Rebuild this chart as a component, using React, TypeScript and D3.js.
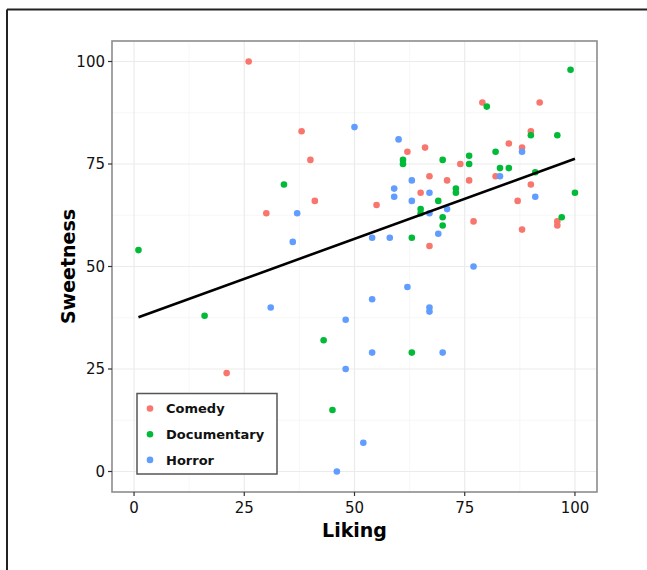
import React from 'react';
import * as d3 from 'd3';

// points: [liking, sweetness]
const comedy: [number, number][] = [
  [26, 100], [38, 83], [40, 76], [41, 66], [30, 63], [21, 24], [55, 65],
  [62, 78], [66, 79], [67, 72], [65, 68], [67, 55], [71, 71], [74, 75],
  [76, 71], [77, 61], [79, 90], [82, 72], [85, 80], [88, 79], [87, 66],
  [88, 59], [90, 83], [90, 70], [92, 90], [96, 61], [96, 60],
];
const documentary: [number, number][] = [
  [1, 54], [16, 38], [34, 70], [43, 32], [45, 15], [61, 76], [61, 75],
  [65, 64], [65, 63], [63, 57], [63, 29], [70, 76], [69, 66], [70, 62],
  [70, 60], [73, 69], [73, 68], [76, 77], [76, 75], [80, 89], [82, 78],
  [83, 74], [85, 74], [90, 82], [91, 73], [96, 82], [97, 62], [99, 98],
  [100, 68],
];
const horror: [number, number][] = [
  [50, 84], [60, 81], [59, 69], [59, 67], [63, 71], [63, 66], [67, 68],
  [67, 63], [71, 64], [69, 58], [54, 57], [58, 57], [37, 63], [36, 56],
  [31, 40], [48, 37], [54, 42], [62, 45], [67, 40], [67, 39], [54, 29],
  [70, 29], [48, 25], [52, 7], [46, 0], [77, 50], [83, 72], [88, 78],
  [91, 67],
];
const fitLine: [number, number][] = [[1, 37.6], [100, 76.3]];

const groups = ['Comedy', 'Documentary', 'Horror'];
const groupData = [comedy, documentary, horror];
const colors = ['#F8766D', '#00BA38', '#619CFF'];
const ticks = [0, 25, 50, 75, 100];
const minorTicks = [12.5, 37.5, 62.5, 87.5];

const W = 647, H = 570;
const panel = { left: 112, right: 597, top: 41, bottom: 492 };
const font = '"DejaVu Sans", Verdana, sans-serif';

export default function App() {
  const x = d3.scaleLinear().domain([-5, 105]).range([panel.left, panel.right]);
  const y = d3.scaleLinear().domain([-5, 105]).range([panel.bottom, panel.top]);
  const line = d3.line<[number, number]>().x(d => x(d[0])).y(d => y(d[1]));

  return (
    <svg width={W} height={H} style={{ position: 'absolute', left: 0, top: 0, background: '#fff' }}>
      {/* outer frame: top and left only */}
      <line x1={7} x2={W} y1={9.5} y2={9.5} stroke="#222" strokeWidth={2} />
      <line x1={7} x2={7} y1={9.5} y2={H} stroke="#222" strokeWidth={2} />

      {/* grid */}
      {minorTicks.map(t => (
        <g key={'m' + t}>
          <line x1={x(t)} x2={x(t)} y1={panel.top} y2={panel.bottom} stroke="#f2f2f2" strokeWidth={0.6} />
          <line x1={panel.left} x2={panel.right} y1={y(t)} y2={y(t)} stroke="#f2f2f2" strokeWidth={0.6} />
        </g>
      ))}
      {ticks.map(t => (
        <g key={'g' + t}>
          <line x1={x(t)} x2={x(t)} y1={panel.top} y2={panel.bottom} stroke="#ebebeb" strokeWidth={1.2} />
          <line x1={panel.left} x2={panel.right} y1={y(t)} y2={y(t)} stroke="#ebebeb" strokeWidth={1.2} />
        </g>
      ))}

      {/* points */}
      {groupData.map((pts, gi) =>
        pts.map((p, i) => (
          <circle key={gi + '-' + i} cx={x(p[0])} cy={y(p[1])} r={3.3} fill={colors[gi]} />
        ))
      )}

      {/* regression line */}
      <path d={line(fitLine) || ''} fill="none" stroke="#000" strokeWidth={2.6} />

      {/* panel border */}
      <rect x={panel.left} y={panel.top} width={panel.right - panel.left} height={panel.bottom - panel.top}
        fill="none" stroke="#8c8c8c" strokeWidth={1.6} />

      {/* axes ticks and labels */}
      {ticks.map(t => (
        <g key={'x' + t}>
          <line x1={x(t)} x2={x(t)} y1={panel.bottom} y2={panel.bottom + 4} stroke="#333" strokeWidth={1.2} />
          <text x={x(t)} y={513} textAnchor="middle" fontFamily={font} fontSize={15} fill="#111">{t}</text>
        </g>
      ))}
      {ticks.map(t => (
        <g key={'y' + t}>
          <line x1={panel.left - 4} x2={panel.left} y1={y(t)} y2={y(t)} stroke="#333" strokeWidth={1.2} />
          <text x={panel.left - 7} y={y(t)} dy="0.36em" textAnchor="end" fontFamily={font} fontSize={15} fill="#111">{t}</text>
        </g>
      ))}

      <text x={(panel.left + panel.right) / 2} y={537} textAnchor="middle" fontFamily={font}
        fontSize={19} fontWeight="bold" fill="#000">Liking</text>
      <text transform={`translate(75, ${(panel.top + panel.bottom) / 2}) rotate(-90)`} textAnchor="middle"
        fontFamily={font} fontSize={19} fontWeight="bold" fill="#000">Sweetness</text>

      {/* legend */}
      <rect x={137} y={393.5} width={140} height={80.5} fill="#fff" stroke="#555" strokeWidth={1.5} />
      {groups.map((g, i) => (
        <g key={g}>
          <circle cx={150} cy={408.5 + i * 25.7} r={3.3} fill={colors[i]} />
          <text x={166} y={408.5 + i * 25.7} dy="0.36em" fontFamily={font} fontSize={13}
            fontWeight="bold" fill="#111">{g}</text>
        </g>
      ))}
    </svg>
  );
}
